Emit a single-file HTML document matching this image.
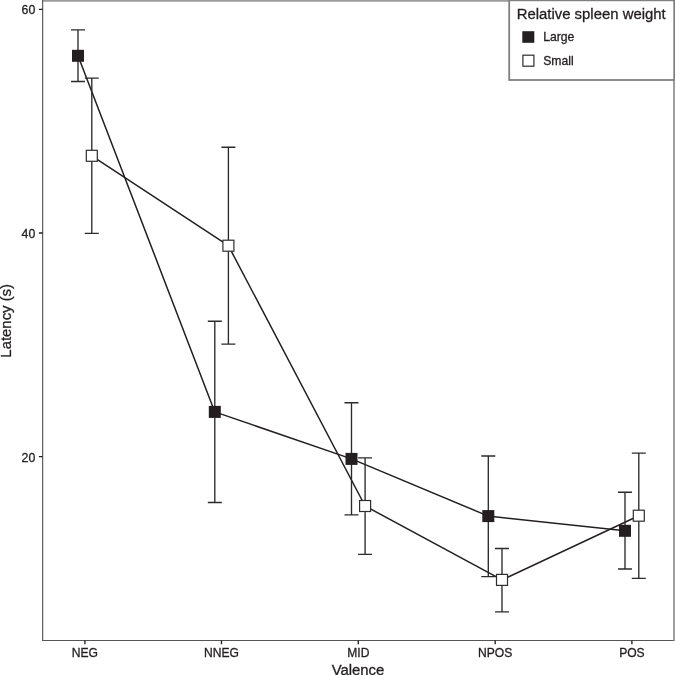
<!DOCTYPE html>
<html><head><meta charset="utf-8"><title>Latency by valence</title>
<style>
html,body{margin:0;padding:0;background:#fff;}
body{width:675px;height:675px;overflow:hidden;}
svg{display:block;}
text{font-family:"Liberation Sans",sans-serif;fill:#231f20;stroke:#231f20;stroke-width:0.3px;}
</style></head><body>
<svg width="675" height="675" viewBox="0 0 675 675">
<rect x="0" y="0" width="675" height="675" fill="#ffffff"/>
<path d="M42.2 0.7 H675 M674.05 0 V641" fill="none" stroke="#9c9c9c" stroke-width="2"/>
<path d="M42.65 0 V641.05 M42.1 640.5 H673.5" fill="none" stroke="#555" stroke-width="1.15"/>
<path d="M38.9 9.4 H42.7 M38.9 233.0 H42.7 M38.9 456.6 H42.7 M84.9 640.5 V644.3 M221.5 640.5 V644.3 M358.3 640.5 V644.3 M495.2 640.5 V644.3 M631.9 640.5 V644.3 " fill="none" stroke="#231f20" stroke-width="1.35"/>
<text x="35.3" y="14.3" font-size="12.3" text-anchor="end">60</text>
<text x="35.3" y="237.9" font-size="12.3" text-anchor="end">40</text>
<text x="35.3" y="461.5" font-size="12.3" text-anchor="end">20</text>
<text x="84.9" y="656.9" font-size="12.1" text-anchor="middle">NEG</text>
<text x="221.5" y="656.9" font-size="12.1" text-anchor="middle">NNEG</text>
<text x="358.3" y="656.9" font-size="12.1" text-anchor="middle">MID</text>
<text x="495.2" y="656.9" font-size="12.1" text-anchor="middle">NPOS</text>
<text x="631.9" y="656.9" font-size="12.1" text-anchor="middle">POS</text>
<text x="358" y="675.2" font-size="14.9" text-anchor="middle">Valence</text>
<text transform="translate(10.7 320.8) rotate(-90)" font-size="14.9" text-anchor="middle">Latency (s)</text>
<polyline points="78.0,55.8 214.8,411.9 351.5,458.9 488.3,516.1 625.0,530.8" fill="none" stroke="#231f20" stroke-width="1.5" stroke-linejoin="round"/>
<polyline points="91.8,155.8 228.4,245.7 365.1,506.0 502.0,579.9 638.8,515.7" fill="none" stroke="#231f20" stroke-width="1.5" stroke-linejoin="round"/>
<path d="M71.0 29.9 H85.0 M78.0 29.9 V81.5 M71.0 81.5 H85.0 M207.8 321.2 H221.8 M214.8 321.2 V502.5 M207.8 502.5 H221.8 M344.5 402.7 H358.5 M351.5 402.7 V514.8 M344.5 514.8 H358.5 M481.3 456.0 H495.3 M488.3 456.0 V576.6 M481.3 576.6 H495.3 M618.0 492.2 H632.0 M625.0 492.2 V569.0 M618.0 569.0 H632.0 M84.8 78.1 H98.8 M91.8 78.1 V233.4 M84.8 233.4 H98.8 M221.4 147.2 H235.4 M228.4 147.2 V344.1 M221.4 344.1 H235.4 M358.1 457.9 H372.1 M365.1 457.9 V554.4 M358.1 554.4 H372.1 M495.0 548.5 H509.0 M502.0 548.5 V611.9 M495.0 611.9 H509.0 M631.8 453.1 H645.8 M638.8 453.1 V578.3 M631.8 578.3 H645.8 " fill="none" stroke="#2b2b2b" stroke-width="1.35"/>
<rect x="72.0" y="49.8" width="12" height="12" fill="#231f20"/>
<rect x="208.8" y="405.9" width="12" height="12" fill="#231f20"/>
<rect x="345.5" y="452.9" width="12" height="12" fill="#231f20"/>
<rect x="482.3" y="510.1" width="12" height="12" fill="#231f20"/>
<rect x="619.0" y="524.8" width="12" height="12" fill="#231f20"/>
<rect x="86.3" y="150.3" width="11" height="11" fill="#fff" stroke="#2e2e2e" stroke-width="1.2"/>
<rect x="222.9" y="240.2" width="11" height="11" fill="#fff" stroke="#2e2e2e" stroke-width="1.2"/>
<rect x="359.6" y="500.5" width="11" height="11" fill="#fff" stroke="#2e2e2e" stroke-width="1.2"/>
<rect x="496.5" y="574.4" width="11" height="11" fill="#fff" stroke="#2e2e2e" stroke-width="1.2"/>
<rect x="633.3" y="510.2" width="11" height="11" fill="#fff" stroke="#2e2e2e" stroke-width="1.2"/>
<rect x="509.2" y="0.3" width="165" height="79.7" fill="#fff" stroke="#7f7f7f" stroke-width="1.8"/>
<text x="516.7" y="18.8" font-size="14.9">Relative spleen weight</text>
<rect x="522.3" y="31.2" width="12" height="11.6" fill="#231f20"/>
<rect x="522.9" y="55.2" width="11" height="11" fill="#fff" stroke="#2e2e2e" stroke-width="1.2"/>
<text x="543.2" y="41.3" font-size="12.2">Large</text>
<text x="543.2" y="64.5" font-size="12.2">Small</text>
</svg>
</body></html>
